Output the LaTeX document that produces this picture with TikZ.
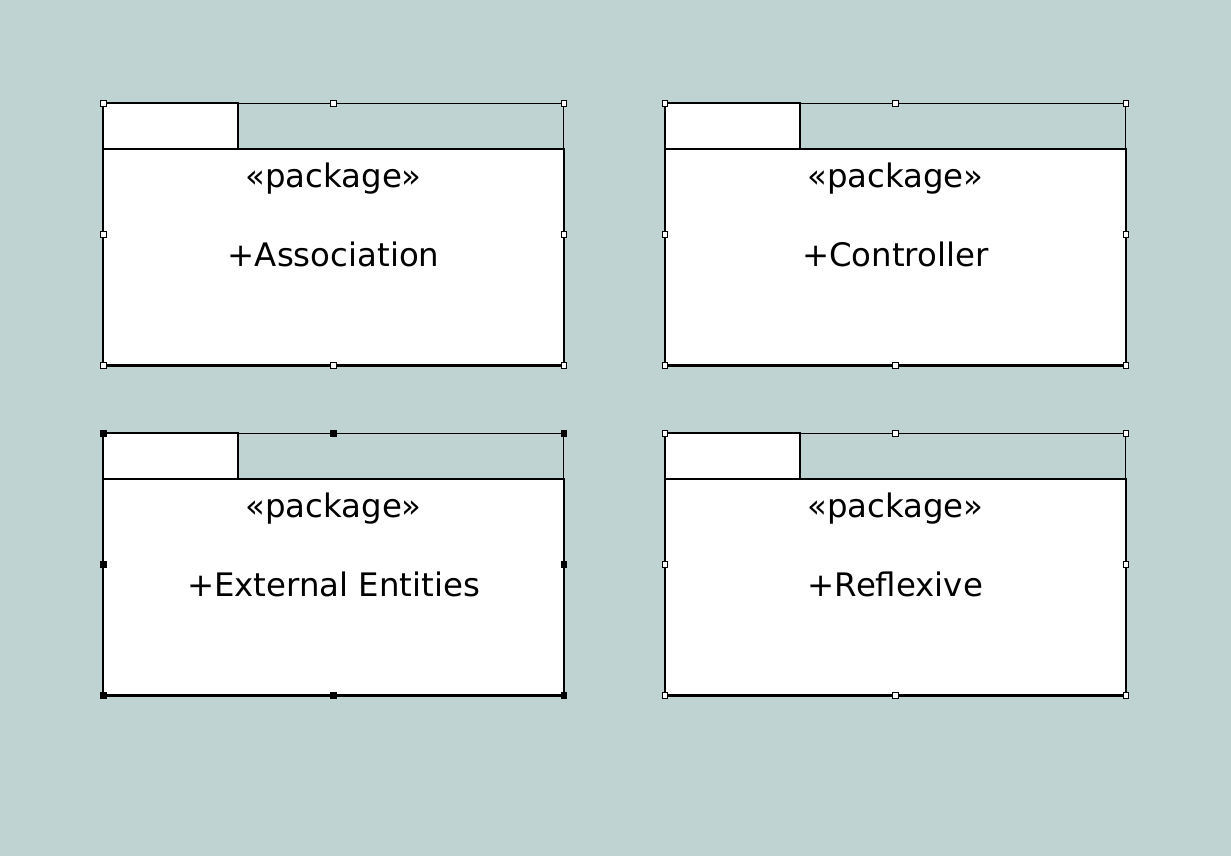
\documentclass[tikz,border=0pt]{standalone}
\usepackage{fontspec}
\setmainfont{DejaVu Sans}
\usepackage{tikz}
\usepackage{xcolor}
\usetikzlibrary{positioning}
\definecolor{canvas}{RGB}{191,211,210}
\tikzstyle{body} = [rectangle, draw, fill=white, line width=1.8pt, inner sep=0pt, outer sep=0pt, minimum width=455pt, minimum height=214pt]
\tikzstyle{tab} = [rectangle, draw, fill=white, line width=1.8pt, inner sep=0pt, outer sep=0pt, minimum width=133pt, minimum height=45pt]
\tikzstyle{handle} = [rectangle, draw, fill=white, line width=0.8pt, inner sep=0pt, minimum size=5.5pt]
\tikzstyle{selhandle} = [handle, fill=black]
\tikzstyle{txt} = [font=\fontsize{32}{38}\selectfont, anchor=base, inner sep=0pt]

\begin{document}
\begin{tikzpicture}[x=1pt,y=1pt]
  \fill[canvas] (0,0) rectangle (1216,-846);
  \useasboundingbox (0,0) rectangle (1216,-846);

  \node[body] (Assoc) at (329.5,-254) {};
  \node[body] (Ctrl) [right=100pt of Assoc] {};
  \node[body] (Ext) [below=112pt of Assoc] {};
  \node[body] (Refl) [below=112pt of Ctrl] {};

  \node[tab, anchor=south west] (Assoc_tab) at (Assoc.north west) {};
  \node[tab, anchor=south west] (Ctrl_tab) at (Ctrl.north west) {};
  \node[tab, anchor=south west] (Ext_tab) at (Ext.north west) {};
  \node[tab, anchor=south west] (Refl_tab) at (Refl.north west) {};

  \foreach \b in {Assoc,Ctrl,Ext,Refl} {
    \draw[line width=0.8pt] (\b_tab.north east) -| (\b.north east);
    \draw[line width=2.8pt] (\b.south west) -- (\b.south east);
  }

  \node[txt] (Assoc_st) at ([yshift=-38pt]Assoc.north) {«package»};
  \node[txt] (Assoc_name) at ([yshift=-116pt]Assoc.north) {+Association};
  \node[txt] (Ctrl_st) at ([yshift=-38pt]Ctrl.north) {«package»};
  \node[txt] (Ctrl_name) at ([yshift=-116pt]Ctrl.north) {+Controller};
  \node[txt] (Ext_st) at ([yshift=-38pt]Ext.north) {«package»};
  \node[txt] (Ext_name) at ([yshift=-116pt]Ext.north) {+External Entities};
  \node[txt] (Refl_st) at ([yshift=-38pt]Refl.north) {«package»};
  \node[txt] (Refl_name) at ([yshift=-116pt]Refl.north) {+Reflexive};

  % selection handles
  \foreach \b in {Assoc,Ctrl,Refl}
    \foreach \a/\s [count=\i] in {north west/45, north/45, north east/45, west/22.5, east/22.5, south west/0, south/0, south east/0}
      \node[handle] (\b_h\i) at ([yshift=\s pt]\b.\a) {};
  \foreach \a/\s [count=\i] in {north west/45, north/45, north east/45, west/22.5, east/22.5, south west/0, south/0, south east/0}
    \node[selhandle] (Ext_h\i) at ([yshift=\s pt]Ext.\a) {};
\end{tikzpicture}
\end{document}
